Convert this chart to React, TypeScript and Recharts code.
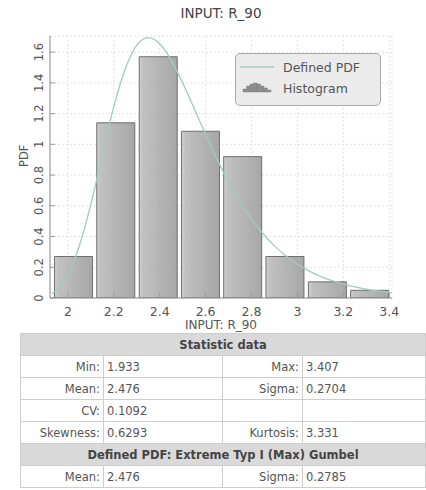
import {
  Bar,
  CartesianGrid,
  ComposedChart,
  Legend,
  Line,
  XAxis,
  YAxis,
} from 'recharts';

// histogram bins (centres) and heights
const binCenters = [2.025, 2.209, 2.394, 2.578, 2.762, 2.946, 3.131, 3.315];
const binHeights = [0.27, 1.14, 1.57, 1.085, 0.92, 0.27, 0.105, 0.05];

// defined pdf curve
const pdfX = [
  1.93, 1.95, 2.0, 2.05, 2.1, 2.15, 2.2, 2.25, 2.3, 2.35, 2.4, 2.45, 2.5, 2.55,
  2.6, 2.65, 2.7, 2.75, 2.8, 2.85, 2.9, 2.95, 3.0, 3.05, 3.1, 3.15, 3.2, 3.25,
  3.3, 3.35, 3.41,
];
const pdfY = [
  0.03, 0.05, 0.15, 0.34, 0.61, 0.93, 1.245, 1.49, 1.645, 1.694, 1.654, 1.548,
  1.4, 1.234, 1.064, 0.902, 0.754, 0.625, 0.513, 0.418, 0.339, 0.274, 0.22,
  0.177, 0.141, 0.113, 0.09, 0.072, 0.057, 0.046, 0.035,
];

const xTicks = [2, 2.2, 2.4, 2.6, 2.8, 3, 3.2, 3.4];
const yTicks = [0, 0.2, 0.4, 0.6, 0.8, 1, 1.2, 1.4, 1.6];

const statRows = [
  ['Min:', '1.933', 'Max:', '3.407'],
  ['Mean:', '2.476', 'Sigma:', '0.2704'],
  ['CV:', '0.1092', '', ''],
  ['Skewness:', '0.6293', 'Kurtosis:', '3.331'],
];
const pdfRows = [['Mean:', '2.476', 'Sigma:', '0.2785']];

const histData = binCenters.map((x, i) => ({ x, hist: binHeights[i] }));
const curveData = pdfX.map((x, i) => ({ x, pdf: pdfY[i] }));

const xDomain = [1.922, 3.412];
const yDomain = [0, 1.705];
const font = '"DejaVu Sans", Verdana, sans-serif';
const fmt = (v: number) => String(Number(v.toFixed(1)));

const LeftTick = (props: any) => {
  const { x, y, payload } = props;
  return (
    <g>
      <line x1={x + 11} x2={x + 16} y1={y} y2={y} stroke="#999" />
      <text
        x={x}
        y={y}
        dy={4}
        transform={`rotate(-90 ${x} ${y})`}
        textAnchor="middle"
        fontSize={11.5}
        fontFamily={font}
        fill="#555"
      >
        {fmt(payload.value)}
      </text>
    </g>
  );
};

const BottomTick = (props: any) => {
  const { x, y, payload } = props;
  return (
    <g>
      <line x1={x} x2={x} y1={y - 14} y2={y - 19} stroke="#999" />
      <text x={x} y={y} dy={4} textAnchor="middle" fontSize={12.5} fontFamily={font} fill="#555">
        {fmt(payload.value)}
      </text>
    </g>
  );
};

const TopTick = (props: any) => {
  const { x, y } = props;
  return <line x1={x} x2={x} y1={y} y2={y + 5} stroke="#999" />;
};

const RightTick = (props: any) => {
  const { x, y } = props;
  return <line x1={x - 5} x2={x} y1={y} y2={y} stroke="#999" />;
};

const LegendBox = () => (
  <div
    style={{
      width: 146,
      height: 53,
      boxSizing: 'border-box',
      background: '#ebebeb',
      border: '1px solid #a8a8a8',
      borderRadius: 5,
      fontFamily: font,
      fontSize: 12.5,
      color: '#555',
      position: 'relative',
    }}
  >
    <svg width={40} height={50} style={{ position: 'absolute', left: 2, top: 0 }}>
      <line x1={2} x2={36} y1={13} y2={13} stroke="#a3cbbd" strokeWidth={1.3} />
      {[3, 6, 8, 9, 8, 6, 4, 2].map((h, i) => (
        <rect key={i} x={5 + i * 3.5} y={38 - h} width={3.5} height={h} fill="#8f8f8f" stroke="#777" strokeWidth={0.4} />
      ))}
    </svg>
    <div style={{ position: 'absolute', left: 47, top: 6 }}>Defined PDF</div>
    <div style={{ position: 'absolute', left: 47, top: 27 }}>Histogram</div>
  </div>
);

const cellBase: React.CSSProperties = {
  border: '1px solid #cdcdcd',
  padding: '0 3px',
  height: 21,
  whiteSpace: 'nowrap',
};

export default function App() {
  return (
    <div
      style={{
        position: 'absolute',
        left: 0,
        top: 0,
        width: 426,
        height: 490,
        background: '#fff',
        overflow: 'hidden',
        fontFamily: font,
      }}
    >
      <div
        style={{
          position: 'absolute',
          top: 5,
          left: 121,
          width: 200,
          textAlign: 'center',
          fontSize: 13.5,
          color: '#444',
        }}
      >
        INPUT: R_90
      </div>
      <ComposedChart
        width={426}
        height={333}
        data={histData}
        margin={{ top: 36, right: 34, bottom: 0, left: 0 }}
        style={{ position: 'absolute', left: 0, top: 0 }}
      >
        <defs>
          <linearGradient id="barFill" x1="0" y1="0" x2="1" y2="0">
            <stop offset="0%" stopColor="#cacaca" />
            <stop offset="10%" stopColor="#b8b8b8" />
            <stop offset="100%" stopColor="#9b9b9b" />
          </linearGradient>
        </defs>
        <CartesianGrid stroke="#e3e3e3" strokeDasharray="2 2" />
        <XAxis
          dataKey="x"
          type="number"
          domain={xDomain}
          allowDataOverflow
          ticks={xTicks}
          height={35}
          tickLine={false}
          tickSize={0}
          tickMargin={14}
          tick={BottomTick}
          axisLine={{ stroke: '#8c8c8c' }}
          label={{
            value: 'INPUT: R_90',
            position: 'insideBottom',
            offset: 4,
            fontSize: 12,
            fontFamily: font,
            fill: '#555',
          }}
        />
        <XAxis
          xAxisId="top"
          dataKey="x"
          type="number"
          orientation="top"
          domain={xDomain}
          allowDataOverflow
          ticks={xTicks}
          height={0}
          tickLine={false}
          tickSize={0}
          tickMargin={0}
          tick={TopTick}
          axisLine={{ stroke: '#8c8c8c' }}
        />
        <YAxis
          type="number"
          domain={yDomain}
          allowDataOverflow
          ticks={yTicks}
          width={50}
          tickLine={false}
          tickSize={0}
          tickMargin={11}
          tick={LeftTick}
          axisLine={{ stroke: '#8c8c8c' }}
          label={{
            value: 'PDF',
            angle: -90,
            position: 'insideLeft',
            offset: 24,
            fontSize: 11.5,
            fontFamily: font,
            fill: '#555',
          }}
        />
        <YAxis
          yAxisId="right"
          orientation="right"
          type="number"
          domain={yDomain}
          allowDataOverflow
          ticks={yTicks}
          width={0}
          tickLine={false}
          tickSize={0}
          tickMargin={0}
          tick={RightTick}
          axisLine={{ stroke: '#8c8c8c' }}
        />
        <Legend
          layout="horizontal"
          verticalAlign="middle"
          align="center"
          content={LegendBox}
          wrapperStyle={{ position: 'absolute', left: 235, top: 53, width: 146, height: 53 }}
        />
        <Line
          data={curveData}
          xAxisId="top"
          dataKey="pdf"
          name="Defined PDF"
          type="monotone"
          stroke="#a3cbbd"
          strokeWidth={1.3}
          dot={false}
          activeDot={false}
          isAnimationActive={false}
        />
        <Bar
          dataKey="hist"
          name="Histogram"
          fill="url(#barFill)"
          fillOpacity={0.88}
          stroke="#6e6e6e"
          strokeWidth={1}
          barSize={43}
          isAnimationActive={false}
        />
      </ComposedChart>
      <table
        style={{
          position: 'absolute',
          left: 20,
          top: 333,
          width: 405,
          borderCollapse: 'collapse',
          tableLayout: 'fixed',
          fontSize: 11.5,
          color: '#555',
          fontFamily: font,
        }}
      >
        <colgroup>
          <col style={{ width: 83 }} />
          <col style={{ width: 119 }} />
          <col style={{ width: 80 }} />
          <col style={{ width: 123 }} />
        </colgroup>
        <tbody>
          <tr>
            <td colSpan={4} style={{ ...cellBase, background: '#d9d9d9', textAlign: 'center', fontWeight: 'bold', color: '#444' }}>
              Statistic data
            </td>
          </tr>
          {statRows.map((r, i) => (
            <tr key={i}>
              <td style={{ ...cellBase, textAlign: 'right' }}>{r[0]}</td>
              <td style={cellBase}>{r[1]}</td>
              <td style={{ ...cellBase, textAlign: 'right' }}>{r[2]}</td>
              <td style={cellBase}>{r[3]}</td>
            </tr>
          ))}
          <tr>
            <td colSpan={4} style={{ ...cellBase, background: '#d9d9d9', textAlign: 'center', fontWeight: 'bold', color: '#444' }}>
              Defined PDF: Extreme Typ I (Max) Gumbel
            </td>
          </tr>
          {pdfRows.map((r, i) => (
            <tr key={i}>
              <td style={{ ...cellBase, textAlign: 'right' }}>{r[0]}</td>
              <td style={cellBase}>{r[1]}</td>
              <td style={{ ...cellBase, textAlign: 'right' }}>{r[2]}</td>
              <td style={cellBase}>{r[3]}</td>
            </tr>
          ))}
        </tbody>
      </table>
    </div>
  );
}
